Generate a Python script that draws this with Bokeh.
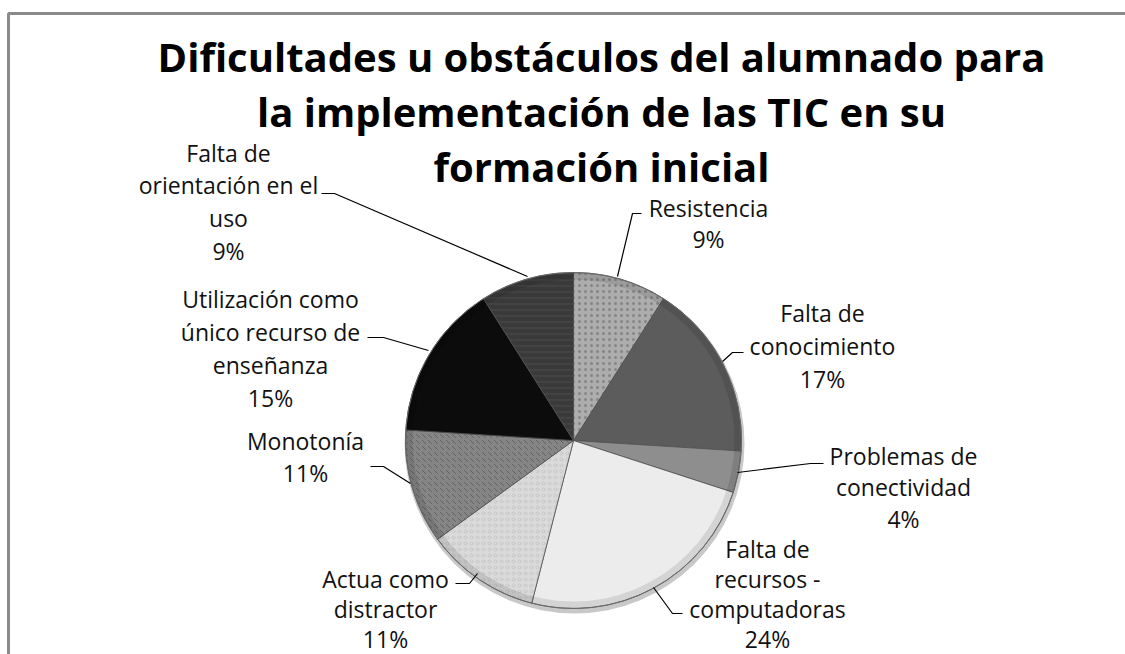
import numpy as np
from bokeh.plotting import figure
from bokeh.models import Range1d, ColumnDataSource
from bokeh.core.properties import value
from bokeh.embed import file_html
from bokeh.resources import INLINE

# ---------------- data ----------------
title_lines = ["Dificultades u obstáculos del alumnado para",
               "la implementación de las TIC en su",
               "formación inicial"]
categories = ["Resistencia",
              "Falta de conocimiento",
              "Problemas de conectividad",
              "Falta de recursos - computadoras",
              "Actua como distractor",
              "Monotonía",
              "Utilización como único recurso de enseñanza",
              "Falta de orientación en el uso"]
percent = [9, 17, 4, 24, 11, 11, 15, 9]
label_text = [["Resistencia"],
              ["Falta de", "conocimiento"],
              ["Problemas de", "conectividad"],
              ["Falta de", "recursos -", "computadoras"],
              ["Actua como", "distractor"],
              ["Monotonía"],
              ["Utilización como", "único recurso de", "enseñanza"],
              ["Falta de", "orientación en el", "uso"]]

# ---------------- styles / layout ----------------
fill_colors = ["#adadad", "#5c5c5c", "#8e8e8e", "#ececec",
               "#dadada", "#858585", "#0c0c0c", "#3a3a3a"]
hatch_patterns = ["dot", " ", " ", " ", "ring", "left_diagonal_dash", " ", "horizontal_line"]
hatch_colors = ["#6a6a6a", "#5c5c5c", "#8e8e8e", "#ececec",
                "#bdbdbd", "#4a4a4a", "#0c0c0c", "#555555"]

W, H = 1125, 654
def Y(s):
    return H - s

CX, CY, R = 573, 440, 168

# label anchors (screen coords): center x, first line centre, line step
label_pos = [(708, 207, 31), (822, 312, 33), (903, 455, 31.5), (767, 548, 30),
             (385, 578, 30), (305, 440, 32), (270, 298, 33), (228, 152, 32.7)]

leaders = [
    [(617, 276), (632, 213), (641, 213)],
    [(722, 361), (732, 352), (743, 352)],
    [(737, 472), (810, 463), (823, 463)],
    [(653, 587), (672, 613), (682, 613)],
    [(455, 583), (469, 583), (477, 573)],
    [(370, 466), (383, 466), (410, 483)],
    [(367, 337), (383, 337), (428, 350)],
    [(321, 193), (334, 193), (527, 276)],
]

p = figure(width=W, height=H, x_range=Range1d(0, W), y_range=Range1d(0, H),
           output_backend="svg", toolbar_location=None, min_border=0)
p.axis.visible = False
p.grid.visible = False
p.outline_line_color = None
p.background_fill_color = "white"

# chart border (top and left)
p.line(x=[8, 8, 1130], y=[Y(660), Y(13), Y(13)], line_color="#8a8a8a", line_width=3)

# shadow
p.circle(x=[CX + 1], y=[Y(CY + 3)], radius=R + 2, fill_color="#9a9a9a", fill_alpha=0.55, line_color=None)

vals = np.array(percent, dtype=float)
frac = vals / vals.sum()
cum = np.cumsum(frac)
start = np.deg2rad(90 - cum * 360)
end = np.deg2rad(90 - (cum - frac) * 360)

src = ColumnDataSource(dict(start=start, end=end, fill=fill_colors,
                            hatch=hatch_patterns, hcol=hatch_colors, cat=categories))
p.wedge(x=CX, y=Y(CY), radius=R, start_angle="start", end_angle="end",
        direction="anticlock", fill_color="fill", hatch_pattern="hatch", hatch_color="hcol",
        hatch_scale=6, hatch_alpha=0.6, hatch_weight=1,
        line_color="#505050", line_width=0.8, source=src)
# bevel at rim
p.annulus(x=[CX], y=[Y(CY)], inner_radius=R - 7, outer_radius=R, fill_color="black",
          fill_alpha=0.10, line_color=None)
p.circle(x=[CX], y=[Y(CY)], radius=R, fill_color=None, line_color="#6a6a6a", line_width=1)

# leader lines
p.multi_line(xs=[[pt[0] for pt in l] for l in leaders],
             ys=[[Y(pt[1]) for pt in l] for l in leaders],
             line_color="black", line_width=1.2)

# labels
tx, ty, tt = [], [], []
for (cx, c0, step), lines, v in zip(label_pos, label_text, percent):
    allines = lines + [f"{v}%"]
    for k, s in enumerate(allines):
        tx.append(cx)
        ty.append(Y(c0 + k * step))
        tt.append(s)
p.text(x=tx, y=ty, text=tt, text_font=value("Open Sans"), text_font_size="23px",
       text_align="center", text_baseline="middle", text_color="#111111")

# title
title_mid = [56, 111, 166]
p.text(x=[601] * 3, y=[Y(b) for b in title_mid], text=title_lines, text_font=value("Open Sans"),
       text_font_style="bold", text_font_size="40px", text_align="center",
       text_baseline="middle", text_color="black")

open("out.html", "w").write(file_html(p, INLINE))
